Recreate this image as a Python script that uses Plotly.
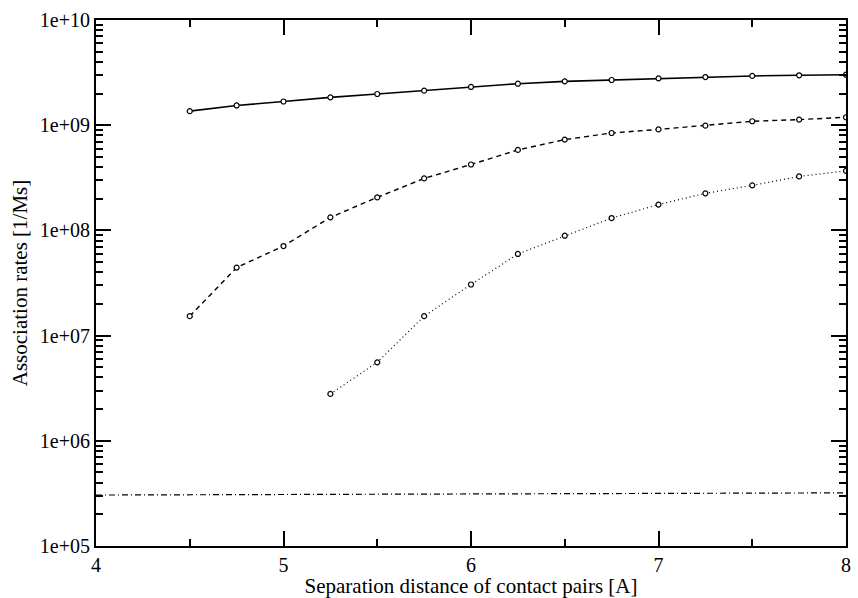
import numpy as np
import plotly.graph_objects as go

# Separation distance grid (Angstrom)
x_full = [4.5, 4.75, 5.0, 5.25, 5.5, 5.75, 6.0, 6.25, 6.5, 6.75, 7.0, 7.25, 7.5, 7.75, 8.0]
x_dotted = [5.25, 5.5, 5.75, 6.0, 6.25, 6.5, 6.75, 7.0, 7.25, 7.5, 7.75, 8.0]

# Association rates [1/Ms]
rate_solid = [1.36e9, 1.54e9, 1.68e9, 1.84e9, 1.98e9, 2.13e9, 2.31e9, 2.48e9,
              2.61e9, 2.69e9, 2.79e9, 2.87e9, 2.94e9, 2.98e9, 3.02e9]
rate_dashed = [1.53e7, 4.43e7, 7.1e7, 1.33e8, 2.06e8, 3.12e8, 4.23e8, 5.82e8,
               7.3e8, 8.43e8, 9.12e8, 9.9e8, 1.09e9, 1.13e9, 1.19e9]
rate_dotted = [2.79e6, 5.57e6, 1.53e7, 3.06e7, 5.97e7, 8.9e7, 1.31e8, 1.76e8,
               2.25e8, 2.68e8, 3.26e8, 3.68e8]

# Reference level (dash-dot)
x_ref = [4.0, 8.0]
rate_ref = [3.05e5, 3.2e5]

y_major = [1e5, 1e6, 1e7, 1e8, 1e9, 1e10]
y_major_text = ["1e+05", "1e+06", "1e+07", "1e+08", "1e+09", "1e+10"]
y_minor = [m * d for d in [1e5, 1e6, 1e7, 1e8, 1e9] for m in range(2, 10)]
x_major = [4, 5, 6, 7, 8]
x_minor = [4.5, 5.5, 6.5, 7.5]

FONT = "Times New Roman, Liberation Serif, DejaVu Serif, serif"

marker = dict(symbol="circle", size=5, color="white", line=dict(color="black", width=1.2))

fig = go.Figure()
fig.add_trace(go.Scatter(x=x_full, y=rate_solid, mode="lines+markers",
                         line=dict(color="black", width=1.6, dash="solid"), marker=marker))
fig.add_trace(go.Scatter(x=x_full, y=rate_dashed, mode="lines+markers",
                         line=dict(color="black", width=1.4, dash="5px,4px"), marker=marker))
fig.add_trace(go.Scatter(x=x_dotted, y=rate_dotted, mode="lines+markers",
                         line=dict(color="black", width=1.2, dash="1px,3px"), marker=marker))
fig.add_trace(go.Scatter(x=x_ref, y=rate_ref, mode="lines",
                         line=dict(color="black", width=1.2, dash="6px,3px,1px,3px")))

fig.update_layout(
    width=858, height=598,
    margin=dict(l=96, r=7, t=20, b=49),
    paper_bgcolor="white", plot_bgcolor="white",
    showlegend=False,
    font=dict(family=FONT, size=20, color="black"),
)

fig.update_xaxes(
    range=[4, 8], tickvals=x_major, ticktext=[str(v) for v in x_major],
    ticks="inside", ticklen=15, tickwidth=2, tickcolor="black",
    minor=dict(tickvals=x_minor, ticks="inside", ticklen=7, tickwidth=1.5, tickcolor="black"),
    showline=True, linecolor="black", linewidth=2, mirror="allticks",
    showgrid=False, zeroline=False,
    tickfont=dict(family=FONT, size=20),
    title=dict(text="Separation distance of contact pairs [A]", font=dict(family=FONT, size=21), standoff=0),
)
fig.update_yaxes(
    type="log", range=[5, 10], tickvals=y_major, ticktext=y_major_text,
    ticks="inside", ticklen=15, tickwidth=2, tickcolor="black",
    minor=dict(tickvals=y_minor, ticks="inside", ticklen=7, tickwidth=1.5, tickcolor="black"),
    showline=True, linecolor="black", linewidth=2, mirror="allticks",
    showgrid=False, zeroline=False,
    tickfont=dict(family=FONT, size=20),
    title=dict(text="Association rates [1/Ms]", font=dict(family=FONT, size=21), standoff=6),
)

fig.write_html("out.html")
